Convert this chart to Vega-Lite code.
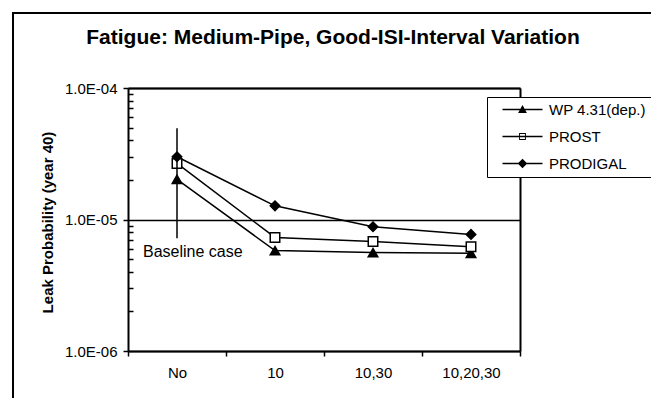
{
  "$schema": "https://vega.github.io/schema/vega-lite/v6.json",
  "width": 640,
  "height": 387,
  "autosize": "none",
  "padding": {"left": 13, "top": 13, "right": -2, "bottom": -2},
  "background": "white",
  "config": {"font": "Liberation Sans", "view": {"stroke": "black", "strokeWidth": 2}},
  "title": {"text": "Fatigue: Medium-Pipe, Good-ISI-Interval Variation", "fontSize": 21, "fontWeight": "bold", "font": "Liberation Sans", "color": "black", "anchor": "middle", "frame": "group", "baseline": "alphabetic", "offset": -52},
  "datasets": {
    "series": [
      {"case": "No", "series": "WP 4.31(dep.)", "p": 2.02e-5},
      {"case": "10", "series": "WP 4.31(dep.)", "p": 5.8e-6},
      {"case": "10,30", "series": "WP 4.31(dep.)", "p": 5.6e-6},
      {"case": "10,20,30", "series": "WP 4.31(dep.)", "p": 5.53e-6},
      {"case": "No", "series": "PROST", "p": 2.67e-5},
      {"case": "10", "series": "PROST", "p": 7.3e-6},
      {"case": "10,30", "series": "PROST", "p": 6.8e-6},
      {"case": "10,20,30", "series": "PROST", "p": 6.2e-6},
      {"case": "No", "series": "PRODIGAL", "p": 3.0e-5},
      {"case": "10", "series": "PRODIGAL", "p": 1.27e-5},
      {"case": "10,30", "series": "PRODIGAL", "p": 8.8e-6},
      {"case": "10,20,30", "series": "PRODIGAL", "p": 7.7e-6}
    ],
    "baseline": [
      {"case": "No", "lo": 7.2e-6, "hi": 4.94e-5, "ty": 5.66e-6, "label": "Baseline case"}
    ]
  },
  "layer": [
    {
      "data": {"name": "series"},
      "mark": {"type": "line", "color": "black", "strokeWidth": 1.5},
      "encoding": {
        "x": {"field": "case", "type": "nominal", "bandPosition": 0.5,
          "scale": {"type": "band", "domain": ["No", "10", "10,30", "10,20,30"], "range": [115, 507], "paddingInner": 0, "paddingOuter": 0},
          "axis": {"orient": "bottom", "offset": -49, "tickBand": "extent", "labelAngle": 0, "labelFontSize": 15, "labelColor": "black", "labelPadding": 9, "tickSize": 5, "tickColor": "black", "tickWidth": 1.5, "domainColor": "black", "domainWidth": 2, "grid": false, "title": null}},
        "y": {"field": "p", "type": "quantitative",
          "scale": {"type": "log", "domain": [1e-6, 1e-4], "range": [338, 75], "nice": false},
          "axis": {"orient": "left", "offset": -115, "values": [1e-6, 1e-5, 1e-4], "labelExpr": "'1.0E-0' + (-round(log(datum.value)/LN10))", "labelFontSize": 15, "labelColor": "black", "labelPadding": 6, "labelFlush": false, "labelOverlap": false, "tickSize": 5, "tickColor": "black", "tickWidth": 1.5, "domainColor": "black", "domainWidth": 2, "grid": true, "gridColor": "black", "gridWidth": 1.5, "title": "Leak Probability (year 40)", "titleFontSize": 15, "titleFontWeight": "bold", "titleColor": "black", "titleX": -81, "titleY": 209, "titleAngle": -90, "titleAlign": "center", "titleBaseline": "middle"}},
        "detail": {"field": "series"}
      }
    },
    {
      "data": {"name": "series"},
      "mark": {"type": "point", "filled": true, "size": 90, "stroke": "black", "strokeWidth": 1.5, "opacity": 1},
      "encoding": {
        "x": {"field": "case", "type": "nominal", "bandPosition": 0.5,
          "scale": {"type": "band", "domain": ["No", "10", "10,30", "10,20,30"], "range": [115, 507], "paddingInner": 0, "paddingOuter": 0},
          "axis": null},
        "y": {"field": "p", "type": "quantitative",
          "scale": {"type": "log", "domain": [1e-6, 1e-4], "range": [338, 75], "nice": false},
          "axis": {"orient": "left", "offset": -115, "values": [2e-6, 3e-6, 4e-6, 5e-6, 6e-6, 7e-6, 8e-6, 9e-6, 2e-5, 3e-5, 4e-5, 5e-5, 6e-5, 7e-5, 8e-5, 9e-5], "labels": false, "tickSize": -5, "tickColor": "black", "tickWidth": 1.5, "domain": false, "grid": false, "title": null}},
        "shape": {"field": "series", "type": "nominal", "scale": {"domain": ["WP 4.31(dep.)", "PROST", "PRODIGAL"], "range": ["triangle-up", "square", "diamond"]}, "legend": null},
        "fill": {"condition": {"test": "datum.series === 'PROST'", "value": "white"}, "value": "black"}
      }
    },
    {
      "data": {"name": "series"},
      "transform": [{"filter": "false"}],
      "mark": {"type": "point", "filled": true, "color": "black"},
      "encoding": {
        "x": {"field": "case", "type": "nominal", "bandPosition": 0.5,
          "scale": {"type": "band", "domain": ["No", "10", "10,30", "10,20,30"], "range": [115, 507], "paddingInner": 0, "paddingOuter": 0},
          "axis": null},
        "y": {"field": "p", "type": "quantitative",
          "scale": {"type": "log", "domain": [1e-6, 1e-4], "range": [338, 75], "nice": false},
          "axis": null},
        "shape": {"field": "series", "type": "nominal",
          "scale": {"domain": ["WP 4.31(dep.)", "PROST", "PRODIGAL"], "range": ["M-5,-0.19H5V0.19H-5ZM0,-1.1L1.1,0.85L-1.1,0.85Z", "M-5,-0.19H5V0.19H-5ZM-0.85,-0.85H0.85V0.85H-0.85ZM-0.62,-0.62V0.62H0.62V-0.62Z", "M-5,-0.19H5V0.19H-5ZM0,-1.2L1.2,0L0,1.2L-1.2,0Z"]},
          "legend": {"orient": "none", "legendX": 474, "legendY": 84, "title": null, "labelFontSize": 15, "labelColor": "black", "labelFont": "Liberation Sans", "strokeColor": "black", "fillColor": "white", "padding": 5, "rowPadding": 11, "symbolSize": 64, "symbolOffset": 23, "labelOffset": 19, "symbolFillColor": "black", "symbolStrokeColor": "black", "symbolStrokeWidth": 0.5, "symbolOpacity": 1, "labelLimit": 300}}
      }
    },
    {
      "data": {"name": "baseline"},
      "mark": {"type": "rule", "color": "black", "strokeWidth": 1.5},
      "encoding": {
        "x": {"field": "case", "type": "nominal", "bandPosition": 0.5,
          "scale": {"type": "band", "domain": ["No", "10", "10,30", "10,20,30"], "range": [115, 507], "paddingInner": 0, "paddingOuter": 0},
          "axis": {"orient": "top", "offset": -75, "labels": false, "ticks": false, "grid": false, "title": null, "domainColor": "black", "domainWidth": 2}},
        "y": {"field": "lo", "type": "quantitative",
          "scale": {"type": "log", "domain": [1e-6, 1e-4], "range": [338, 75], "nice": false},
          "axis": {"orient": "right", "offset": -133, "labels": false, "ticks": false, "grid": false, "title": null, "domainColor": "black", "domainWidth": 2}},
        "y2": {"field": "hi"}
      }
    },
    {
      "data": {"name": "baseline"},
      "mark": {"type": "text", "align": "left", "baseline": "middle", "dx": -34, "fontSize": 16, "color": "black", "font": "Liberation Sans"},
      "encoding": {
        "x": {"field": "case", "type": "nominal", "bandPosition": 0.5,
          "scale": {"type": "band", "domain": ["No", "10", "10,30", "10,20,30"], "range": [115, 507], "paddingInner": 0, "paddingOuter": 0},
          "axis": null},
        "y": {"field": "ty", "type": "quantitative",
          "scale": {"type": "log", "domain": [1e-6, 1e-4], "range": [338, 75], "nice": false},
          "axis": null},
        "text": {"field": "label"}
      }
    }
  ],
  "resolve": {"scale": {"shape": "independent"}, "axis": {"x": "independent", "y": "independent"}, "legend": {"shape": "independent"}}
}
